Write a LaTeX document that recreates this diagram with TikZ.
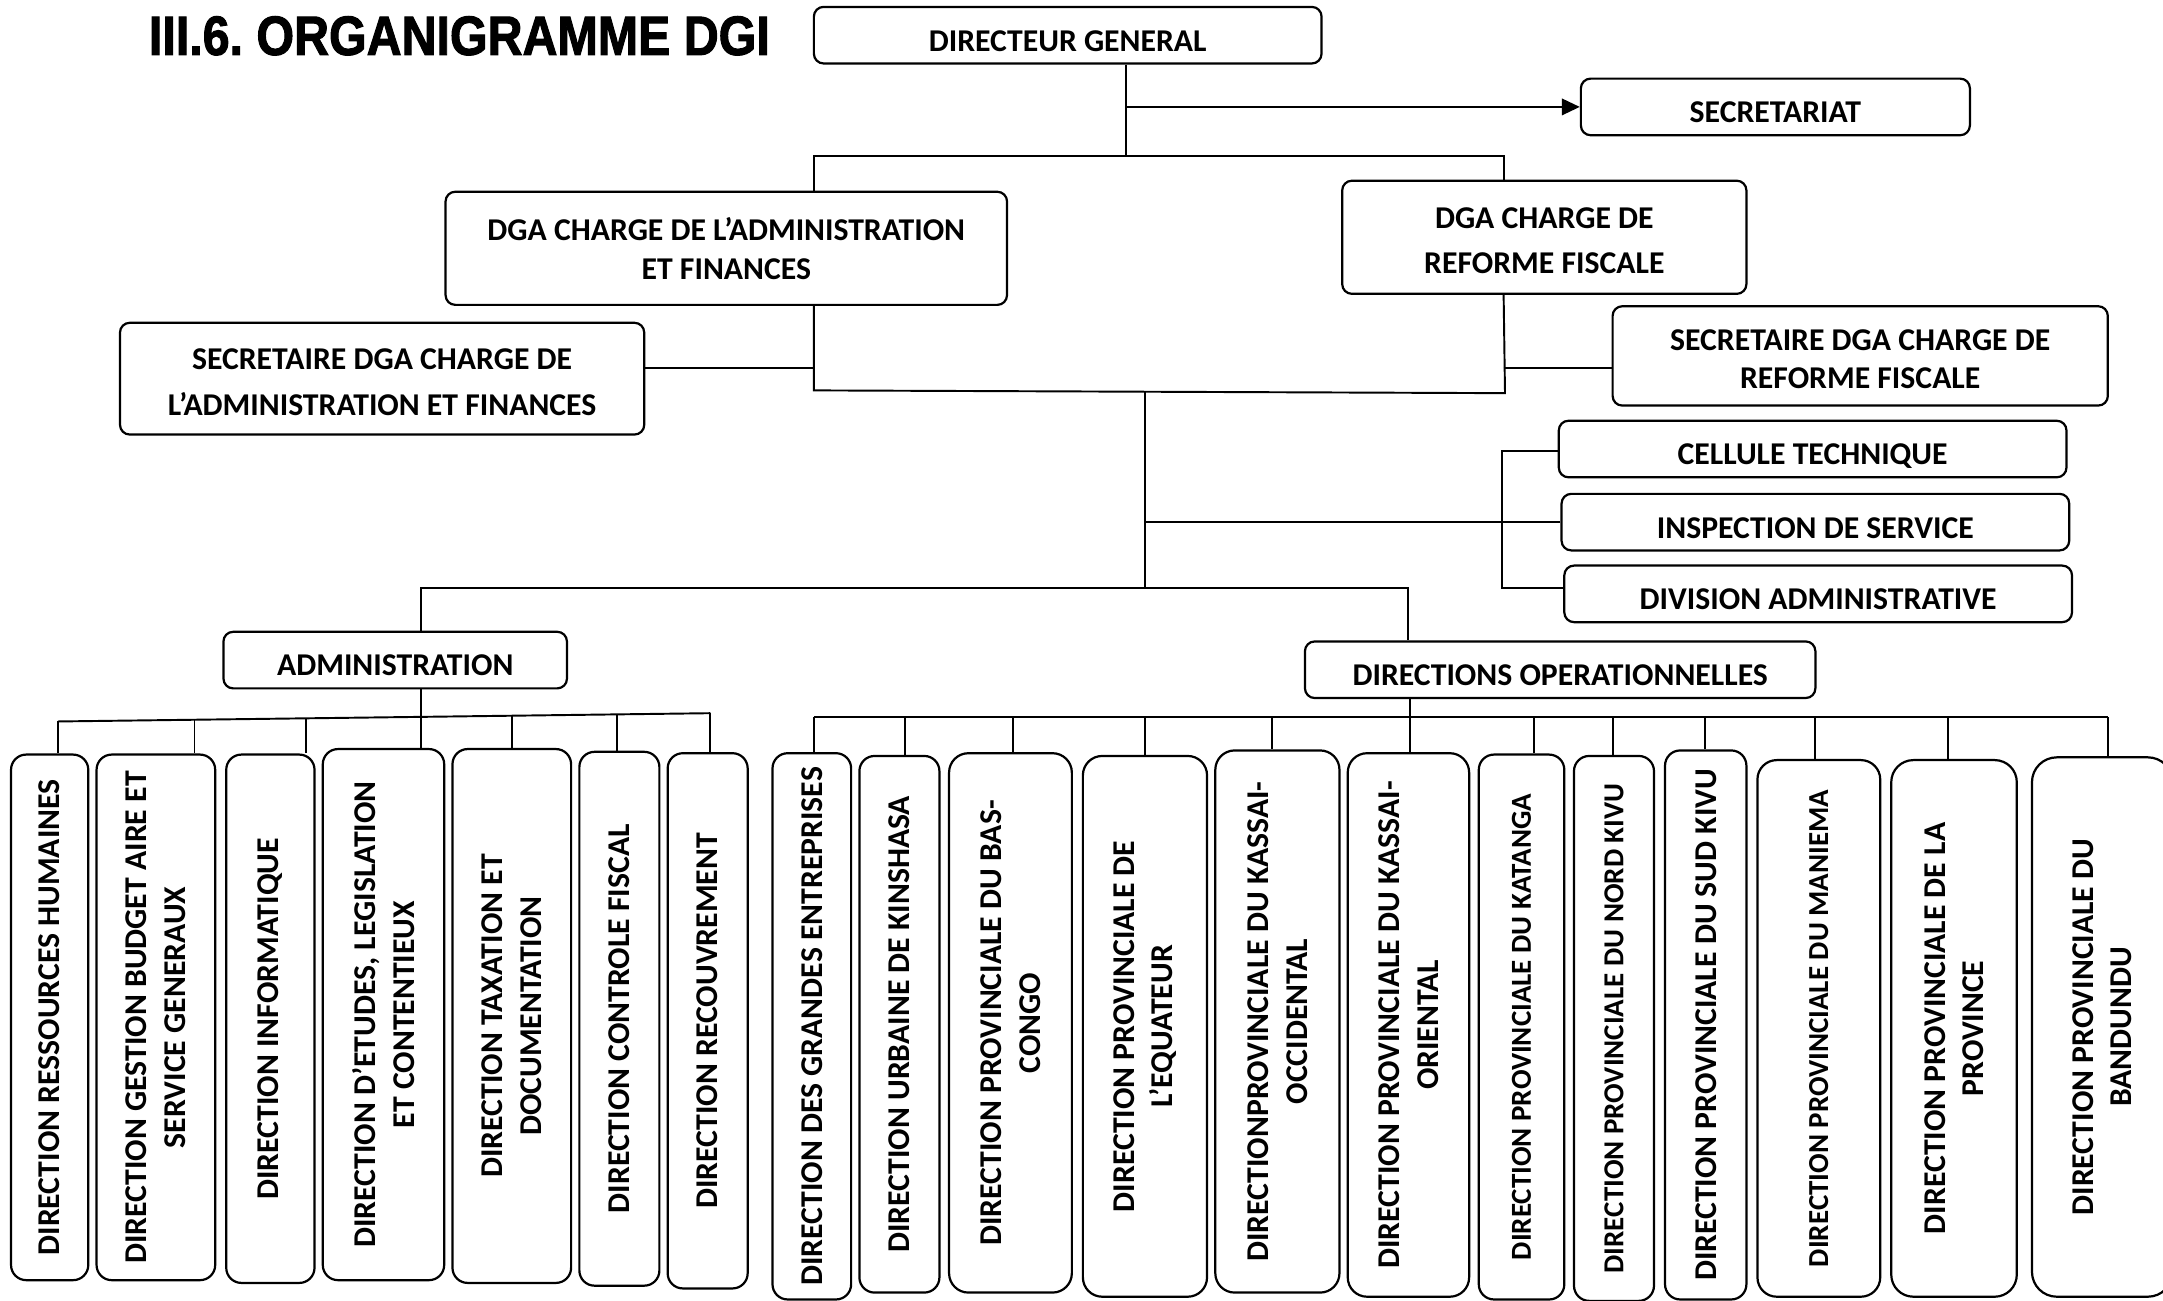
\documentclass[tikz,border=0pt]{standalone}
\usepackage{graphicx}
\usepackage{fontspec}
\setmainfont{Carlito}
\newfontfamily\titlefont{Liberation Sans}[BoldFeatures={FakeBold=2}]
\usetikzlibrary{arrows.meta}
\tikzset{
  hbox/.style={draw, rounded corners=7pt, line width=1.6pt, inner sep=0pt, align=center,
    font=\bfseries\fontsize{23}{28}\selectfont},
  one/.style={text height=23pt, text depth=0pt},
  vbox/.style={draw, rounded corners=11pt, line width=1.6pt, inner sep=0pt, align=center,
    rotate=90, font=\bfseries\fontsize{23}{28}\selectfont},
  vsmall/.style={font=\bfseries\fontsize{21}{27}\selectfont},
  link/.style={line width=1.4pt},
}
\newcommand\hb[7][]{\node[hbox,#1,minimum width={#5pt-#3pt},minimum height={#6pt-#4pt}] (#2) at ({(#3+#5)/2},{(#4+#6)/2}) {#7};}
\newcommand\vb[7][]{\node[vbox,#1,minimum width={#6pt-#4pt},minimum height={#5pt-#3pt}] (#2) at ({(#3+#5)/2},{(#4+#6)/2}) {#7};}
\newcommand\up{\rule{0pt}{20pt}}
\begin{document}
\begin{tikzpicture}[x=1pt,y=-1pt]
\useasboundingbox[fill=white] (0,0) rectangle (1568,943);

\node[inner sep=0pt] (title) at (333,26) {\resizebox{450pt}{28pt}{\titlefont\bfseries\frenchspacing III.6. ORGANIGRAMME DGI}};

% top boxes
\hb[one]{dg}{590}{5}{958}{46}{DIRECTEUR GENERAL}
\hb[one]{sec}{1146}{57}{1428}{98}{SECRETARIAT}
\hb{dgaa}{323}{139}{730}{221}{DGA CHARGE DE L’ADMINISTRATION\\ET FINANCES}
\hb[font=\bfseries\fontsize{23}{32}\selectfont]{dgar}{973}{131}{1266}{213}{\up DGA CHARGE DE\\REFORME FISCALE}
\hb[font=\bfseries\fontsize{23}{33}\selectfont]{seca}{87}{234}{467}{315}{\up SECRETAIRE DGA CHARGE DE\\L’ADMINISTRATION ET FINANCES}
\hb{secr}{1169}{222}{1528}{294}{\up SECRETAIRE DGA CHARGE DE\\REFORME FISCALE}
\hb[one]{cel}{1130}{305}{1498}{346}{CELLULE TECHNIQUE}
\hb[one]{insp}{1132}{358}{1500}{399}{INSPECTION DE SERVICE}
\hb[one]{div}{1134}{410}{1502}{451}{DIVISION ADMINISTRATIVE}
\hb[one]{adm}{162}{458}{411}{499}{ADMINISTRATION}
\hb[one]{dop}{946}{465}{1316}{506}{DIRECTIONS OPERATIONNELLES}

% administration directions
\vb{r1}{8}{547}{64}{928}{DIRECTION RESSOURCES HUMAINES}
\vb{r2}{70}{547}{156}{928}{DIRECTION GESTION BUDGET AIRE ET\\SERVICE GENERAUX}
\vb{r3}{164}{547}{228}{930}{DIRECTION INFORMATIQUE}
\vb{r4}{234}{543}{322}{928}{DIRECTION D’ETUDES, LEGISLATION\\ET CONTENTIEUX}
\vb{r5}{328}{543}{414}{930}{DIRECTION TAXATION ET\\DOCUMENTATION}
\vb{r6}{420}{545}{478}{932}{DIRECTION CONTROLE FISCAL}
\vb{r7}{484}{546}{542}{934}{DIRECTION RECOUVREMENT}

% operational directions
\vb{o1}{560}{546}{617}{942}{DIRECTION DES GRANDES ENTREPRISES}
\vb{o2}{623}{548}{681}{937}{DIRECTION URBAINE DE KINSHASA}
\vb[rounded corners=14pt]{o3}{688}{546}{777}{937}{DIRECTION PROVINCIALE DU BAS-\\CONGO}
\vb[rounded corners=14pt]{o4}{785}{548}{875}{940}{DIRECTION PROVINCIALE DE\\L’EQUATEUR}
\vb[rounded corners=14pt]{o5}{881}{544}{971}{937}{DIRECTIONPROVINCIALE DU KASSAI-\\OCCIDENTAL}
\vb[rounded corners=14pt]{o6}{977}{546}{1065}{940}{DIRECTION PROVINCIALE DU KASSAI-\\ORIENTAL}
\vb[vsmall]{o7}{1072}{547}{1134}{942}{DIRECTION PROVINCIALE DU KATANGA}
\vb[vsmall]{o8}{1141}{548}{1199}{943}{DIRECTION PROVINCIALE DU NORD KIVU}
\vb{o9}{1207}{544}{1266}{942}{DIRECTION PROVINCIALE DU SUD KIVU}
\vb[vsmall,rounded corners=14pt]{o10}{1274}{551}{1363}{940}{DIRECTION PROVINCIALE DU MANIEMA}
\vb[rounded corners=16pt]{o11}{1371}{551}{1462}{940}{DIRECTION PROVINCIALE DE LA\\PROVINCE}
\vb[rounded corners=18pt]{o12}{1473}{549}{1575}{940}{DIRECTION PROVINCIALE DU\\BANDUNDU}

% junction coordinates
\coordinate (t0) at (816,77.5);
\coordinate (t1) at (816,113);
\coordinate (t2) at (590,113);
\coordinate (t3) at (1090,113);
\coordinate (m1) at (590,283);
\coordinate (m2) at (1091,285);
\coordinate (sa) at (467,267);
\coordinate (sr) at (1090,267);
\coordinate (c1) at (830,284);
\coordinate (c2) at (830,426);
\coordinate (b1) at (1089,327);
\coordinate (b2) at (1089,426);
\coordinate (h1) at (305,426);
\coordinate (h2) at (1021,426);

% top connectors
\draw[link] (dg.south -| t1) -- (t1);
\draw[link,-{Triangle[length=13pt,width=12pt]}] (t0) -- (sec.west);
\draw[link] (dgaa.north -| t2) -- (t2) -- (t3) -- (dgar.north -| t3);
\draw[link] (dgaa.south -| m1) -- (m1) -- (m2) -- (dgar.south -| t3);
\draw[link] (seca.east |- sa) -- (sa -| m1);
\draw[link] (sr) -- (sr -| secr.west);
\draw[link] (c1) -- (c2);
\draw[link] (insp.west) -- (insp.west -| c1);
\draw[link] (cel.west |- b1) -- (b1) -- (b2) -- (div.west |- b2);
\draw[link] (adm.north -| h1) -- (h1) -- (h2) -- (dop.north -| h2);

% administration bus
\coordinate (a1) at (42,523);
\coordinate (a2) at (141,521.7);
\coordinate (a3) at (222,520.7);
\coordinate (a4) at (305,519.7);
\coordinate (a5) at (371,518.8);
\coordinate (a6) at (447,517.9);
\coordinate (a7) at (515,517);
\draw[link] (a1) -- (a7);
\draw[link] (adm.south -| a4) -- (a4) -- (a4 |- r4.east);
\foreach \i in {1,2,3,5,6,7} \draw[link] (a\i) -- (a\i |- r\i.east);

% operational bus
\coordinate (p1) at (590,520);
\coordinate (p2) at (656,520);
\coordinate (p3) at (734,520);
\coordinate (p4) at (830,520);
\coordinate (p5) at (922,520);
\coordinate (p6) at (1022,520);
\coordinate (p7) at (1112,520);
\coordinate (p8) at (1169,520);
\coordinate (p9) at (1236,520);
\coordinate (p10) at (1316,520);
\coordinate (p11) at (1412,520);
\coordinate (p12) at (1528,520);
\draw[link] (p1) -- (p12);
\draw[link] (dop.south -| p6) -- (p6);
\foreach \i in {1,...,12} \draw[link] (p\i) -- (p\i |- o\i.east);
\end{tikzpicture}
\end{document}
